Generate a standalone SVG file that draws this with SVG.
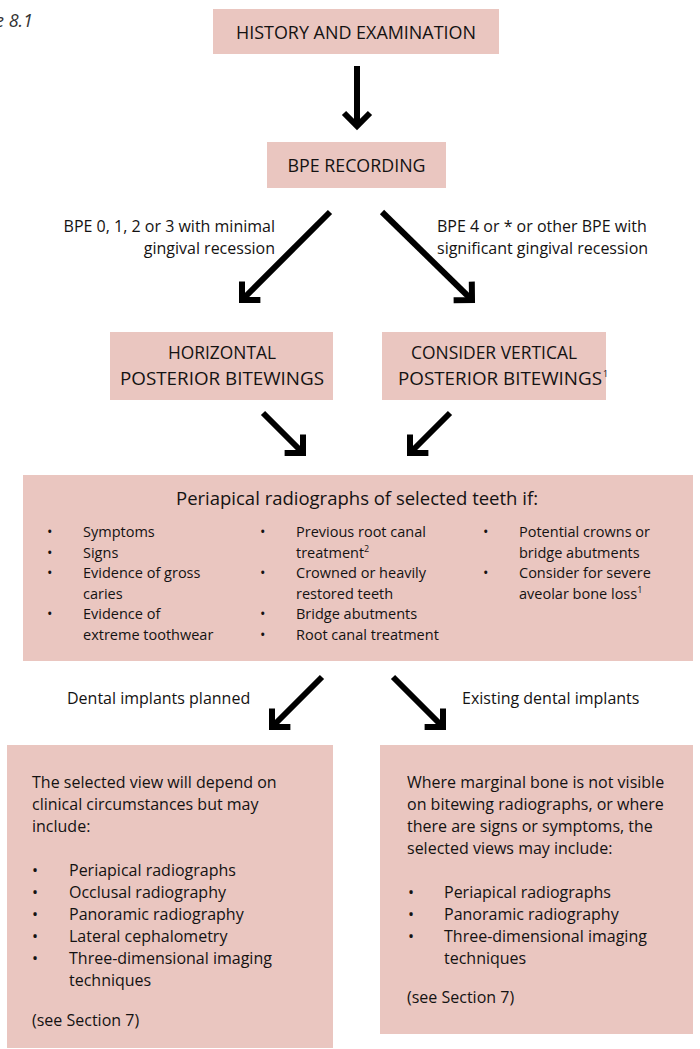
<svg xmlns="http://www.w3.org/2000/svg" width="700" height="1049" viewBox="0 0 700 1049">
<style>
  .box { fill: #EAC6C0; }
  .t { font-family: "Open Sans", "Liberation Sans", sans-serif; fill: #141212; }
  .hd { font-size: 18px; }
  .bd { font-size: 14.5px; }
  .bt { font-size: 16px; }
  .lb { font-size: 16px; }
  .conn { stroke: #000; stroke-width: 6; fill: none; marker-end: url(#chev); }
  .sup { font-size: 9px; }
</style>
<defs>
  <marker id="chev" markerUnits="userSpaceOnUse" viewBox="-22 -18 28 36" refX="0" refY="0" markerWidth="28" markerHeight="36" orient="auto" overflow="visible">
    <path d="M-13,-13 L0,0 L-13,13" fill="none" stroke="#000" stroke-width="6" stroke-linejoin="miter" stroke-miterlimit="10"/>
  </marker>
</defs>
<rect width="700" height="1049" fill="#fff"/>

<text x="-5" y="27" font-family="'Open Sans', 'Liberation Sans', sans-serif" font-style="italic" font-size="18" fill="#333">e 8.1</text>

<g id="history">
  <rect class="box" x="213" y="9" width="286" height="45"/>
  <text class="t hd" x="356" y="39" text-anchor="middle" textLength="240" lengthAdjust="spacingAndGlyphs">HISTORY AND EXAMINATION</text>
</g>

<g id="bpe">
  <rect class="box" x="267" y="142" width="179" height="46"/>
  <text class="t hd" x="356.5" y="172" text-anchor="middle" textLength="138" lengthAdjust="spacingAndGlyphs">BPE RECORDING</text>
</g>

<g id="horizontal">
  <rect class="box" x="110" y="332" width="223" height="68"/>
  <text class="t hd" x="222" y="359" text-anchor="middle" textLength="108" lengthAdjust="spacingAndGlyphs">HORIZONTAL</text>
  <text class="t hd" x="222" y="385" text-anchor="middle" textLength="204" lengthAdjust="spacingAndGlyphs">POSTERIOR BITEWINGS</text>
</g>

<g id="vertical">
  <rect class="box" x="382" y="332" width="224" height="68"/>
  <text class="t hd" x="494" y="359" text-anchor="middle" textLength="166" lengthAdjust="spacingAndGlyphs">CONSIDER VERTICAL</text>
  <text class="t hd" x="398" y="385" textLength="204" lengthAdjust="spacingAndGlyphs">POSTERIOR BITEWINGS</text>
  <text class="t sup" x="603" y="377">1</text>
</g>

<g id="periapical">
  <rect class="box" x="23" y="475" width="670" height="186"/>
  <text class="t" font-size="18.5" x="357" y="505" text-anchor="middle" textLength="362" lengthAdjust="spacingAndGlyphs">Periapical radiographs of selected teeth if:</text>
  <g class="t bd">
    <text x="47" y="537">•</text><text x="83" y="537">Symptoms</text>
    <text x="47" y="558">•</text><text x="83" y="558">Signs</text>
    <text x="47" y="578">•</text><text x="83" y="578">Evidence of gross</text>
    <text x="83" y="599">caries</text>
    <text x="47" y="619">•</text><text x="83" y="619">Evidence of</text>
    <text x="83" y="640">extreme toothwear</text>

    <text x="260" y="537">•</text><text x="296" y="537">Previous root canal</text>
    <text x="296" y="558">treatment<tspan class="sup" dy="-6">2</tspan></text>
    <text x="260" y="578">•</text><text x="296" y="578">Crowned or heavily</text>
    <text x="296" y="599">restored teeth</text>
    <text x="260" y="619">•</text><text x="296" y="619">Bridge abutments</text>
    <text x="260" y="640">•</text><text x="296" y="640">Root canal treatment</text>

    <text x="483" y="537">•</text><text x="519" y="537">Potential crowns or</text>
    <text x="519" y="558">bridge abutments</text>
    <text x="483" y="578">•</text><text x="519" y="578">Consider for severe</text>
    <text x="519" y="599">aveolar bone loss<tspan class="sup" dy="-6">1</tspan></text>
  </g>
</g>

<g id="planned">
  <rect class="box" x="7" y="745" width="326" height="303"/>
  <g class="t bt">
    <text x="32" y="788">The selected view will depend on</text>
    <text x="32" y="810">clinical circumstances but may</text>
    <text x="32" y="832">include:</text>
    <text x="32" y="876">•</text><text x="69" y="876">Periapical radiographs</text>
    <text x="32" y="898">•</text><text x="69" y="898">Occlusal radiography</text>
    <text x="32" y="920">•</text><text x="69" y="920">Panoramic radiography</text>
    <text x="32" y="942">•</text><text x="69" y="942">Lateral cephalometry</text>
    <text x="32" y="964">•</text><text x="69" y="964">Three-dimensional imaging</text>
    <text x="69" y="986">techniques</text>
    <text x="32" y="1026">(see Section 7)</text>
  </g>
</g>

<g id="existing">
  <rect class="box" x="380" y="745" width="313" height="289"/>
  <g class="t bt">
    <text x="407" y="788">Where marginal bone is not visible</text>
    <text x="407" y="810">on bitewing radiographs, or where</text>
    <text x="407" y="832">there are signs or symptoms, the</text>
    <text x="407" y="854">selected views may include:</text>
    <text x="408" y="898">•</text><text x="444" y="898">Periapical radiographs</text>
    <text x="408" y="920">•</text><text x="444" y="920">Panoramic radiography</text>
    <text x="408" y="942">•</text><text x="444" y="942">Three-dimensional imaging</text>
    <text x="444" y="964">techniques</text>
    <text x="407" y="1003">(see Section 7)</text>
  </g>
</g>

<g id="labels" class="t lb">
  <text x="275" y="232" text-anchor="end">BPE 0, 1, 2 or 3 with minimal</text>
  <text x="275" y="254" text-anchor="end">gingival recession</text>
  <text x="437" y="232">BPE 4 or * or other BPE with</text>
  <text x="437" y="254">significant gingival recession</text>
  <text x="67" y="704">Dental implants planned</text>
  <text x="462" y="704">Existing dental implants</text>
</g>

<g id="connectors">
  <path class="conn" d="M357,66 L357,126"/>
  <path class="conn" d="M330,212 L242,300"/>
  <path class="conn" d="M382,212 L472,300"/>
  <path class="conn" d="M263,413 L303,453"/>
  <path class="conn" d="M450,413 L410,453"/>
  <path class="conn" d="M322,677 L272,727"/>
  <path class="conn" d="M393,677 L443,727"/>
</g>
</svg>
